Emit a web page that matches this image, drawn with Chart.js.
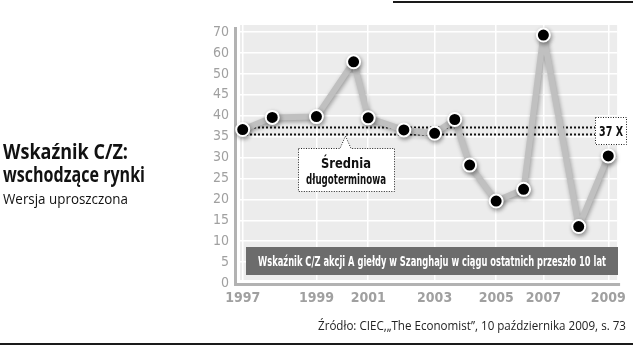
<!DOCTYPE html>
<html>
<head>
<meta charset="utf-8">
<script src="https://cdn.jsdelivr.net/npm/chart.js@4"></script>
<style>
  html, body { margin: 0; padding: 0; background: #fff; }
  #wrap { position: relative; width: 633px; height: 351px; overflow: hidden; }
  #chart { position: absolute; left: 0; top: 0; }
  .t { position: absolute; left: 3px; white-space: nowrap; color: #111; transform-origin: 0 0;
       font-family: "Open Sans", "Noto Sans", sans-serif; }
  #t1 { top: 137px; font-size: 21px; font-weight: 700; }
  #t2 { top: 160px; font-size: 21px; font-weight: 700; }
  #t3 { top: 189px; font-size: 14.5px; }
  #src { top: 317px; left: 318px; font-size: 12px; color: #222; }
</style>
</head>
<body>
<div id="wrap">
  <canvas id="chart" width="633" height="351"></canvas>
  <div class="t" id="t1" data-w="125">Wskaźnik C/Z:</div>
  <div class="t" id="t2" data-w="142">wschodzące rynki</div>
  <div class="t" id="t3" data-w="125">Wersja uproszczona</div>
  <div class="t" id="src" data-w="308">Źródło: CIEC,„The Economist”, 10 października 2009, s. 73</div>
</div>
<script>
const years = [1997.0, 1997.97, 1999.42, 2000.64, 2001.12, 2002.29, 2003.3, 2003.96, 2004.45, 2005.32, 2006.22, 2006.87, 2008.03, 2009.0];
const peValues = [36.7, 39.6, 39.8, 52.9, 39.5, 36.6, 35.8, 39.1, 28.2, 19.6, 22.4, 59.3, 13.5, 30.4];
const labelledPoints = [0, 2, 4, 6, 9, 11, 13];
const yearLabels = ['1997', '1999', '2001', '2003', '2005', '2007', '2009'];
const yTickValues = [0, 5, 10, 15, 20, 25, 30, 35, 40, 45, 50, 55, 60];
const yTickLabels = ['0', '5', '10', '15', '20', '25', '30', '35', '40', '45', '50', '60', '70'];
const averageLines = [37.2, 35.6];

const narrow = '"Liberation Sans Narrow", "DejaVu Sans Condensed", sans-serif';

// dopasowanie szerokości napisów
document.querySelectorAll('.t').forEach(el => {
    const w = el.getBoundingClientRect().width;
    const target = +el.dataset.w;
    el.style.transform = 'scaleX(' + (target / w) + ')';
});

function fitText(ctx, text, x, y, maxW) {
    const w = ctx.measureText(text).width;
    const k = w > maxW ? maxW / w : 1;
    ctx.save();
    ctx.translate(x, y);
    ctx.scale(k, 1);
    ctx.fillText(text, 0, 0);
    ctx.restore();
}

const decorPlugin = {
    id: 'decor',
    beforeDraw(chart) {
        const ctx = chart.ctx;
        const a = chart.chartArea;
        ctx.save();
        ctx.fillStyle = '#ececec';
        ctx.fillRect(a.left + 4, a.top, a.right - a.left - 4, a.bottom - a.top - 3);
        // ramki strony
        ctx.fillStyle = '#1a1a1a';
        ctx.fillRect(393, 1, 240, 2);
        ctx.fillRect(0, 343, 633, 2);
        ctx.restore();
    },
    beforeDatasetsDraw(chart) {
        const ctx = chart.ctx;
        const a = chart.chartArea;
        const y = chart.scales.y;
        ctx.save();
        // osie
        ctx.fillStyle = '#b2b2b2';
        ctx.fillRect(a.left - 2, a.top + 2, 3, a.bottom - a.top);
        ctx.fillRect(a.left - 2, a.bottom, a.right - a.left + 5, 3);
        // ciemna etykieta
        ctx.fillStyle = '#6c6c6c';
        ctx.fillRect(246, 247, 372, 28);
        ctx.fillStyle = '#fff';
        ctx.font = 'bold 14px ' + narrow;
        ctx.textAlign = 'center';
        ctx.textBaseline = 'middle';
        fitText(ctx, 'Wskaźnik C/Z akcji A giełdy w Szanghaju w ciągu ostatnich przeszło 10 lat', 432, 262, 348);
        // linie średniej
        ctx.strokeStyle = '#111';
        ctx.lineWidth = 2;
        ctx.setLineDash([2, 2]);
        averageLines.forEach(v => {
            const py = Math.round(y.getPixelForValue(v)) + 0.5;
            ctx.beginPath();
            ctx.moveTo(a.left + 6, py);
            ctx.lineTo(596, py);
            ctx.stroke();
        });
        ctx.restore();
    },
    beforeDatasetDraw(chart) {
        const ctx = chart.ctx;
        ctx.save();
        ctx.shadowColor = 'rgba(0,0,0,0.35)';
        ctx.shadowBlur = 4;
        ctx.shadowOffsetX = 1;
        ctx.shadowOffsetY = 2;
    },
    afterDatasetDraw(chart) {
        chart.ctx.restore();
    },
    afterDatasetsDraw(chart) {
        const ctx = chart.ctx;
        const y = chart.scales.y;
        const lowY = Math.round(y.getPixelForValue(averageLines[1]));
        ctx.save();
        ctx.lineWidth = 1;
        ctx.setLineDash([1, 1.5]);
        ctx.strokeStyle = '#222';
        // ramka "Średnia długoterminowa"
        ctx.fillStyle = '#fff';
        ctx.beginPath();
        ctx.moveTo(298.5, 148.5);
        ctx.lineTo(340, 148.5);
        ctx.lineTo(345.5, lowY + 2);
        ctx.lineTo(351, 148.5);
        ctx.lineTo(394.5, 148.5);
        ctx.lineTo(394.5, 191.5);
        ctx.lineTo(298.5, 191.5);
        ctx.closePath();
        ctx.fill();
        ctx.stroke();
        // ramka 37 X
        ctx.fillRect(595, 117, 32, 28);
        ctx.strokeRect(595.5, 117.5, 31, 27);
        ctx.fillStyle = '#111';
        ctx.font = 'bold 14px ' + narrow;
        ctx.textAlign = 'center';
        ctx.textBaseline = 'middle';
        fitText(ctx, 'Średnia', 346, 164, 50);
        fitText(ctx, 'długoterminowa', 346, 180, 80);
        fitText(ctx, '37 X', 611, 132, 24);
        ctx.restore();
    }
};

const ctx = document.getElementById('chart').getContext('2d');
new Chart(ctx, {
    type: 'line',
    data: {
        datasets: [{
            data: years.map((yr, i) => ({ x: yr, y: peValues[i] })),
            borderColor: '#c0c0c0',
            borderWidth: 6,
            borderJoinStyle: 'round',
            borderCapStyle: 'round',
            pointRadius: 6.5,
            pointBorderWidth: 2,
            pointBackgroundColor: '#000',
            pointBorderColor: '#fff',
            tension: 0,
            clip: false
        }]
    },
    options: {
        responsive: false,
        animation: false,
        events: [],
        layout: { padding: { left: 200, right: 9, top: 25, bottom: 40 } },
        plugins: { legend: { display: false }, tooltip: { enabled: false } },
        scales: {
            x: {
                type: 'linear',
                min: 1996.78,
                max: 2009.29,
                afterBuildTicks: s => { s.ticks = labelledPoints.map(i => ({ value: years[i] })); },
                afterFit: s => { s.height = 28; },
                grid: { color: '#fff', lineWidth: 1.5, drawTicks: false },
                border: { display: false },
                ticks: {
                    padding: 7,
                    color: '#a0a0a0',
                    font: { family: narrow, size: 14, weight: 'bold' },
                    maxRotation: 0,
                    callback: (v, i) => yearLabels[i]
                }
            },
            y: {
                min: 0,
                max: 61.7,
                afterBuildTicks: s => { s.ticks = yTickValues.map(v => ({ value: v })); },
                afterFit: s => { s.width = 36; },
                grid: { color: '#fff', lineWidth: 1.5, drawTicks: false },
                border: { display: false },
                ticks: {
                    padding: 7,
                    color: '#a0a0a0',
                    font: { family: narrow, size: 14 },
                    callback: (v, i) => yTickLabels[i]
                }
            }
        }
    },
    plugins: [decorPlugin]
});
</script>
</body>
</html>
